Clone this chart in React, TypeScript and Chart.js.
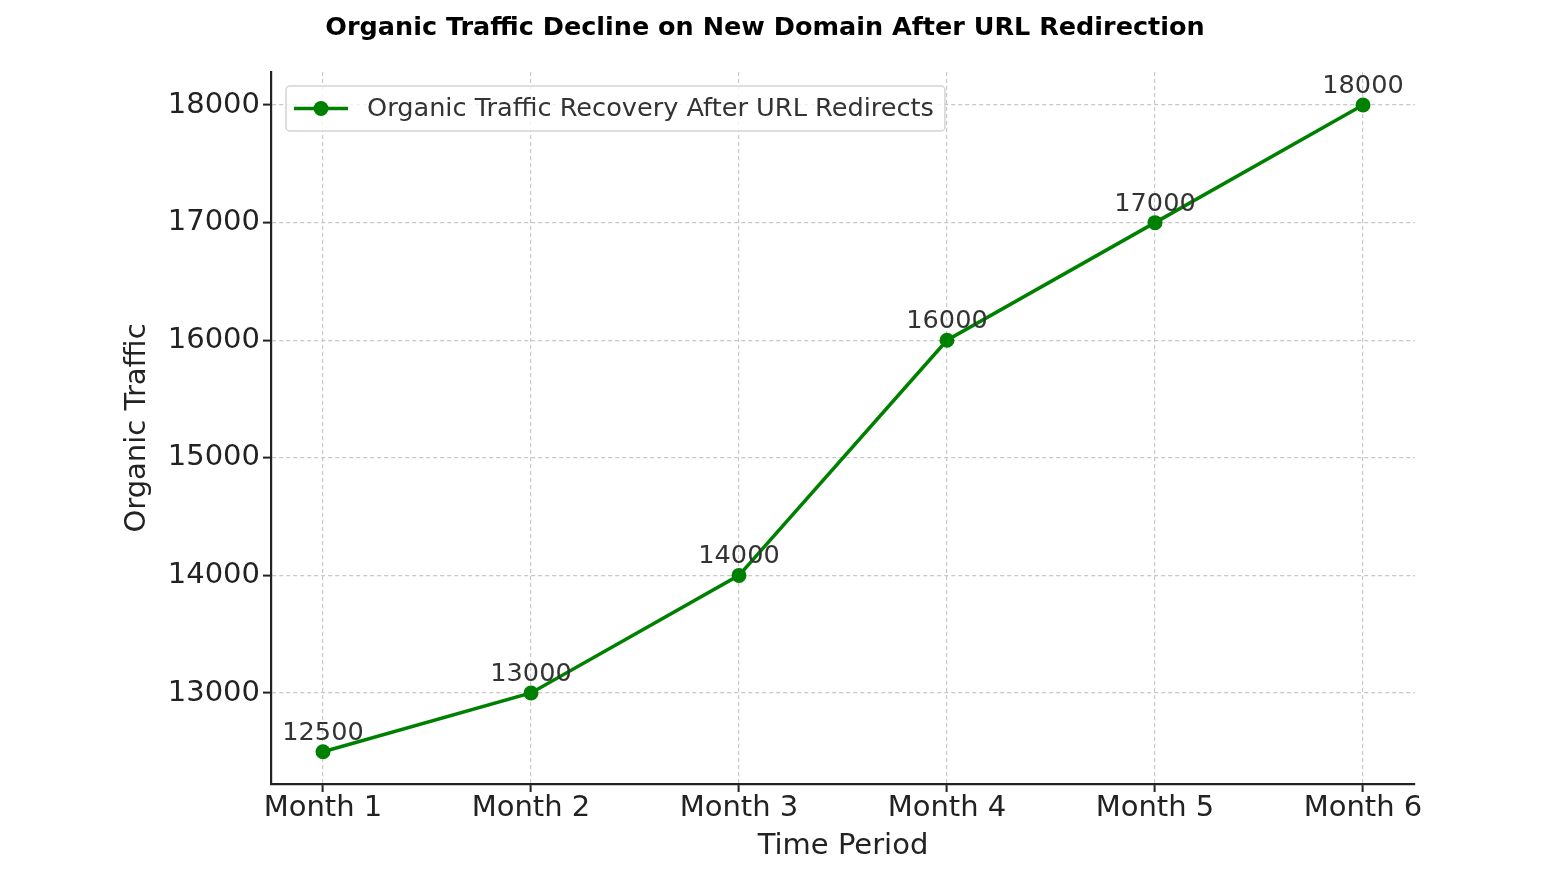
import React, { useEffect, useRef } from "react";
import { Chart, registerables } from "chart.js";

Chart.register(...registerables);

const chartTitle = "Organic Traffic Decline on New Domain After URL Redirection";
const seriesName = "Organic Traffic Recovery After URL Redirects";
const months = ["Month 1", "Month 2", "Month 3", "Month 4", "Month 5", "Month 6"];
const traffic = [12500, 13000, 14000, 16000, 17000, 18000];
const yTicks = [13000, 14000, 15000, 16000, 17000, 18000];
const xLabel = "Time Period";
const yLabel = "Organic Traffic";

const GREEN = "#008000";
const FONT = "'DejaVu Sans', sans-serif";

export default function App() {
  const ref = useRef<HTMLCanvasElement | null>(null);

  useEffect(() => {
    if (!ref.current) return;

    const overlay = {
      id: "overlay",
      afterDatasetsDraw(chart: any) {
        const ctx = chart.ctx;
        const area = chart.chartArea;
        // point value labels
        const meta = chart.getDatasetMeta(0);
        ctx.save();
        ctx.font = `25.6px ${FONT}`;
        ctx.fillStyle = "#333333";
        ctx.textAlign = "center";
        ctx.textBaseline = "alphabetic";
        meta.data.forEach((pt: any, i: number) => {
          ctx.fillText(String(traffic[i]), pt.x, pt.y - 12);
        });
        ctx.restore();

        // legend
        ctx.save();
        const bx = area.left + 15;
        const by = area.top + 14;
        ctx.font = `25.6px ${FONT}`;
        const tw = ctx.measureText(seriesName).width;
        const bw = 81 + tw + 11;
        const bh = 45;
        ctx.beginPath();
        ctx.roundRect(bx, by, bw, bh, 4);
        ctx.fillStyle = "rgba(255,255,255,0.8)";
        ctx.fill();
        ctx.lineWidth = 1.5;
        ctx.strokeStyle = "#d4d4d4";
        ctx.stroke();
        const cy = by + bh / 2;
        ctx.beginPath();
        ctx.moveTo(bx + 8, cy);
        ctx.lineTo(bx + 62, cy);
        ctx.lineWidth = 3.5;
        ctx.strokeStyle = GREEN;
        ctx.stroke();
        ctx.beginPath();
        ctx.arc(bx + 35, cy, 7.5, 0, Math.PI * 2);
        ctx.fillStyle = GREEN;
        ctx.fill();
        ctx.fillStyle = "#333333";
        ctx.textAlign = "left";
        ctx.textBaseline = "middle";
        ctx.fillText(seriesName, bx + 81, cy + 1);
        ctx.restore();

        // title
        ctx.save();
        ctx.font = `bold 25.5px 'DejaVu Sans', sans-serif`;
        ctx.fillStyle = "#000000";
        ctx.textAlign = "center";
        ctx.textBaseline = "middle";
        ctx.fillText(chartTitle, 765, 28);
        ctx.restore();
      },
    };

    const chart = new Chart(ref.current, {
      type: "line",
      data: {
        datasets: [
          {
            label: seriesName,
            data: traffic.map((v, i) => ({ x: i, y: v })),
            borderColor: GREEN,
            backgroundColor: GREEN,
            borderWidth: 3.5,
            pointRadius: 7.5,
            pointHoverRadius: 7.5,
            pointBackgroundColor: GREEN,
            pointBorderWidth: 0,
            tension: 0,
            clip: false as any,
          },
        ],
      },
      options: {
        animation: false,
        responsive: false,
        maintainAspectRatio: false,
        devicePixelRatio: 1,
        layout: { padding: { left: 0, right: 146, top: 72, bottom: 0 } },
        plugins: {
          legend: { display: false },
          title: { display: false },
          tooltip: { enabled: false },
        },
        scales: {
          x: {
            type: "linear",
            min: -0.25,
            max: 5.25,
            afterBuildTicks: (axis: any) => {
              axis.ticks = months.map((_, i) => ({ value: i }));
            },
            afterFit: (axis: any) => {
              axis.height = 98;
            },
            ticks: {
              callback: (v: any) => months[v as number] ?? "",
              font: { family: FONT, size: 29, lineHeight: 1 },
              color: "#222222",
              padding: 2,
              maxRotation: 0,
              autoSkip: false,
            },
            grid: {
              color: "#c8c8c8",
              lineWidth: 1.2,
              tickColor: "#222222",
              tickWidth: 2,
              tickLength: 8,
              tickBorderDash: [],
            },
            border: { display: true, color: "#222222", width: 2.2, dash: [4, 3] },
            title: {
              display: true,
              text: xLabel,
              font: { family: FONT, size: 29, lineHeight: 1 },
              color: "#222222",
              padding: { top: 0, bottom: 21.5 },
            },
          },
          y: {
            type: "linear",
            min: 12226,
            max: 18281,
            afterBuildTicks: (axis: any) => {
              axis.ticks = yTicks.map((v) => ({ value: v }));
            },
            afterFit: (axis: any) => {
              axis.width = 271;
            },
            ticks: {
              font: { family: FONT, size: 29, lineHeight: 1 },
              color: "#222222",
              padding: 3,
              callback: (v: any) => String(v),
            },
            grid: {
              color: "#c8c8c8",
              lineWidth: 1.2,
              tickColor: "#222222",
              tickWidth: 2,
              tickLength: 8,
              tickBorderDash: [],
            },
            border: { display: true, color: "#222222", width: 2.2, dash: [4, 3] },
            title: {
              display: true,
              text: yLabel,
              font: { family: FONT, size: 29, lineHeight: 1 },
              color: "#222222",
              padding: { top: 122.5, bottom: 0 },
            },
          },
        },
      },
      plugins: [overlay],
    } as any);

    return () => chart.destroy();
  }, []);

  return (
    <div style={{ position: "absolute", left: 0, top: 0, width: 1561, height: 882, background: "#ffffff" }}>
      <canvas ref={ref} width={1561} height={882} style={{ display: "block" }} />
    </div>
  );
}
